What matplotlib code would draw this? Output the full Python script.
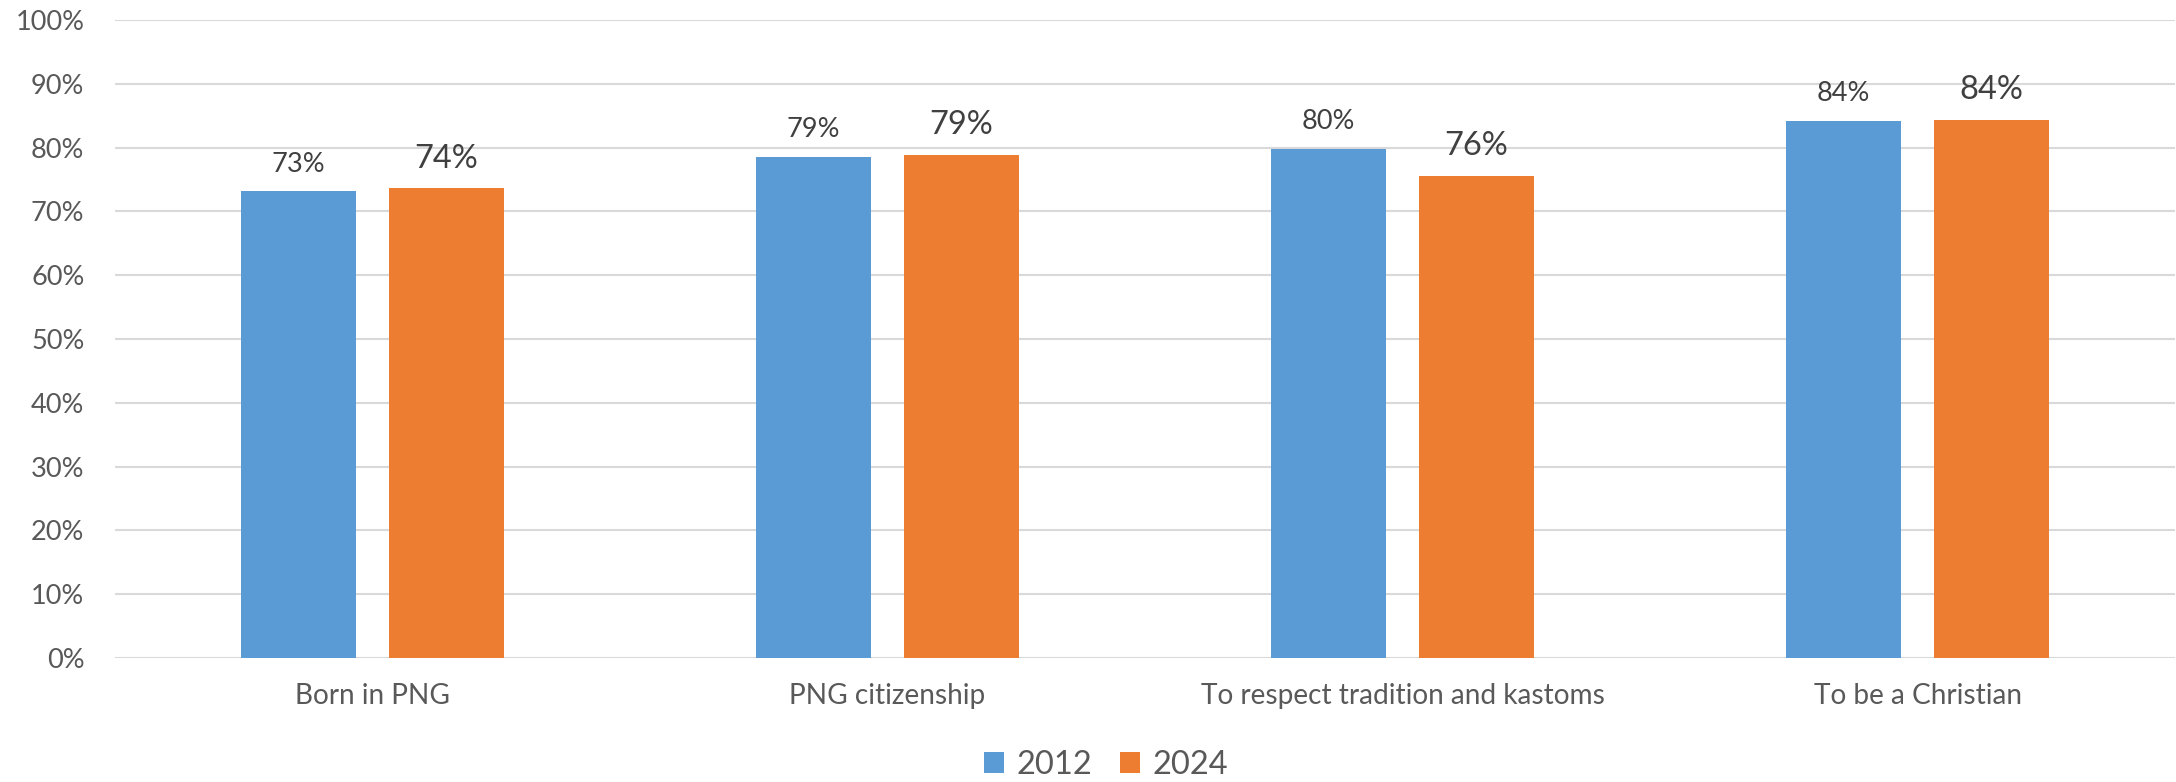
import matplotlib
matplotlib.use("Agg")
import matplotlib.pyplot as plt
import numpy as np
from matplotlib.patches import Patch

categories = ["Born in PNG", "PNG citizenship", "To respect tradition and kastoms", "To be a Christian"]
series_names = ["2012", "2024"]
values_2012 = [73.2, 78.6, 79.8, 84.2]
values_2024 = [73.6, 78.9, 75.6, 84.4]
yticks = [0, 10, 20, 30, 40, 50, 60, 70, 80, 90, 100]
ytick_labels = [f"{t}%" for t in yticks]

colors = ["#5B9BD5", "#ED7D31"]
plt.rcParams['font.family'] = ['Lato', 'DejaVu Sans']

W, H = 2176, 782
dpi = 100
fig = plt.figure(figsize=(W / dpi, H / dpi), dpi=dpi)
ax = fig.add_axes([115 / W, 1 - 658 / H, (2175 - 115) / W, (658 - 20) / H])

x = np.arange(len(categories))
bw = 0.225
off = 0.1437
b1 = ax.bar(x - off, values_2012, bw, color=colors[0], label=series_names[0], zorder=3)
b2 = ax.bar(x + off, values_2024, bw, color=colors[1], label=series_names[1], zorder=3)

for xi, v in zip(x, values_2012):
    ax.annotate(f"{round(v)}%", (xi - off, v), xytext=(0, 14), textcoords="offset points",
                ha="center", va="baseline", fontsize=19.5, color="#404040")
for xi, v in zip(x, values_2024):
    ax.annotate(f"{round(v)}%", (xi + off, v), xytext=(0, 15), textcoords="offset points",
                ha="center", va="baseline", fontsize=23.5, color="#404040")

ax.set_xlim(-0.5, len(categories) - 0.5)
ax.set_ylim(0, 100)
ax.set_yticks(yticks)
ax.set_yticklabels(ytick_labels)
ax.set_xticks(x)
ax.set_xticklabels(categories)
ax.tick_params(axis="y", length=0, pad=22, labelsize=19.5, labelcolor="#595959")
ax.tick_params(axis="x", length=0, pad=18, labelsize=20.2, labelcolor="#595959")
for s in ax.spines.values():
    s.set_visible(False)
ax.yaxis.grid(True, color="#D9D9D9", linewidth=1.5, zorder=0)
ax.set_axisbelow(True)

handles = [Patch(facecolor=c, edgecolor="none") for c in colors]
fig.legend(handles, series_names, loc="center", bbox_to_anchor=(1106 / W, 1 - 765 / H),
           ncol=2, frameon=False, fontsize=23.5, labelcolor="#595959",
           handlelength=0.62, handleheight=0.62, handletextpad=0.38, columnspacing=0.85,
           borderpad=0)

fig.savefig("out.png", dpi=dpi)
